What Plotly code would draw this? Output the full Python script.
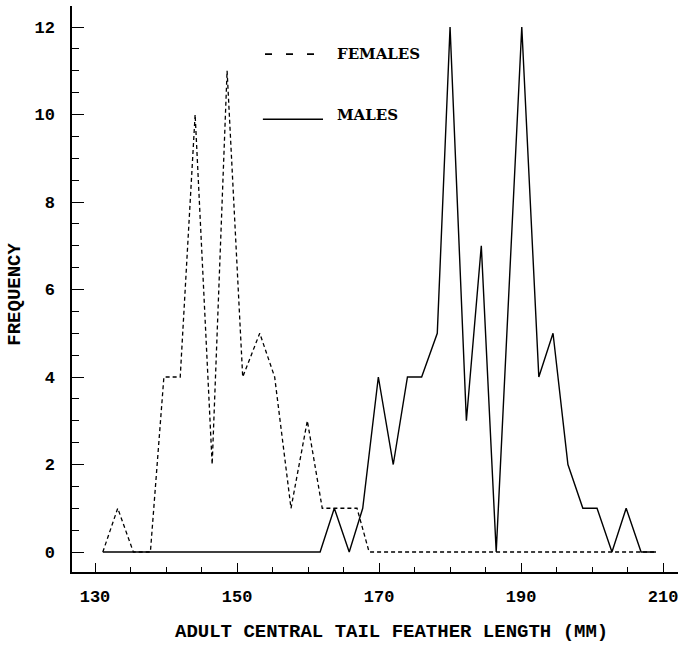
import plotly.graph_objects as go

# Data
female_length = [131.1, 133.2, 135.4, 137.8, 139.7, 142.0, 144.1, 146.5, 148.6, 150.8,
                 153.2, 155.3, 157.6, 159.9, 162.0, 164.3, 166.9, 168.6, 209.0]
female_freq = [0, 1, 0, 0, 4, 4, 10, 2, 11, 4,
               5, 4, 1, 3, 1, 1, 1, 0, 0]

male_length = [131.1, 161.7, 163.7, 165.8, 167.7, 169.9, 172.0, 174.0, 176.0, 178.2,
               180.0, 182.3, 184.4, 186.5, 190.1, 192.5, 194.5, 196.6, 198.7, 200.7,
               202.8, 204.8, 206.9, 209.0]
male_freq = [0, 0, 1, 0, 1, 4, 2, 4, 4, 5,
             12, 3, 7, 0, 12, 4, 5, 2, 1, 1,
             0, 1, 0, 0]

x_ticks = [130, 150, 170, 190, 210]
y_ticks = [0, 2, 4, 6, 8, 10, 12]

FONT = "Liberation Mono"

fig = go.Figure()
fig.add_trace(go.Scatter(x=female_length, y=female_freq, mode="lines", name="FEMALES",
                         line=dict(color="black", width=1.3, dash="4px,3px")))
fig.add_trace(go.Scatter(x=male_length, y=male_freq, mode="lines", name="MALES",
                         line=dict(color="black", width=1.4)))

# Hand-drawn style legend
fig.add_shape(type="line", xref="paper", yref="paper", x0=0.3185, x1=0.4142, y0=0.915, y1=0.915,
              line=dict(color="black", width=1.6, dash="7px,14px"))
fig.add_shape(type="line", xref="paper", yref="paper", x0=0.315, x1=0.4142, y0=0.800, y1=0.800,
              line=dict(color="black", width=1.6))
fig.add_annotation(xref="paper", yref="paper", x=0.434, y=0.915, text="<b>FEMALES</b>",
                   showarrow=False, xanchor="left", yanchor="middle",
                   font=dict(family="DejaVu Serif", size=15, color="black"))
fig.add_annotation(xref="paper", yref="paper", x=0.434, y=0.807, text="<b>MALES</b>",
                   showarrow=False, xanchor="left", yanchor="middle",
                   font=dict(family="DejaVu Serif", size=15, color="black"))
# Axis titles
fig.add_annotation(xref="paper", yref="paper", x=-0.094, y=0.49, text="<b>FREQUENCY</b>",
                   showarrow=False, xanchor="center", yanchor="middle", textangle=-90,
                   font=dict(family=FONT, size=19, color="black"))
fig.add_annotation(xref="paper", yref="paper", x=0.528, y=-0.106,
                   text="<b>ADULT CENTRAL TAIL FEATHER LENGTH (MM)</b>",
                   showarrow=False, xanchor="center", yanchor="middle",
                   font=dict(family=FONT, size=19, color="black"))

fig.update_layout(
    width=679, height=663,
    margin=dict(l=72, r=1, t=6, b=91),
    plot_bgcolor="white", paper_bgcolor="white",
    showlegend=False,
    font=dict(family=FONT, color="black"),
)
fig.update_xaxes(
    range=[126.76, 212.1], automargin=False,
    tickmode="array", tickvals=x_ticks, ticktext=[f"<b>{v}</b>" for v in x_ticks],
    ticks="inside", ticklen=9, tickwidth=1.2, tickcolor="black",
    minor=dict(ticks="inside", ticklen=5, dtick=5, tick0=130, tickcolor="black", tickwidth=1),
    showline=True, linecolor="black", linewidth=1.5,
    showgrid=False, zeroline=False,
    tickfont=dict(family=FONT, size=17, color="black"),
    ticklabelstandoff=8,
)
fig.update_yaxes(
    range=[-0.457, 12.48], automargin=False,
    tickmode="array", tickvals=y_ticks, ticktext=[f"<b>{v}</b>" for v in y_ticks],
    ticks="inside", ticklen=12, tickwidth=1.2, tickcolor="black",
    minor=dict(ticks="inside", ticklen=7, dtick=0.5, tick0=0, tickcolor="black", tickwidth=1),
    showline=True, linecolor="black", linewidth=1.5,
    showgrid=False, zeroline=False,
    tickfont=dict(family=FONT, size=17, color="black"),
    ticklabelstandoff=12,
)

fig.write_html("out.html", config={"displayModeBar": False},
               post_script="document.body.style.margin='0';")
